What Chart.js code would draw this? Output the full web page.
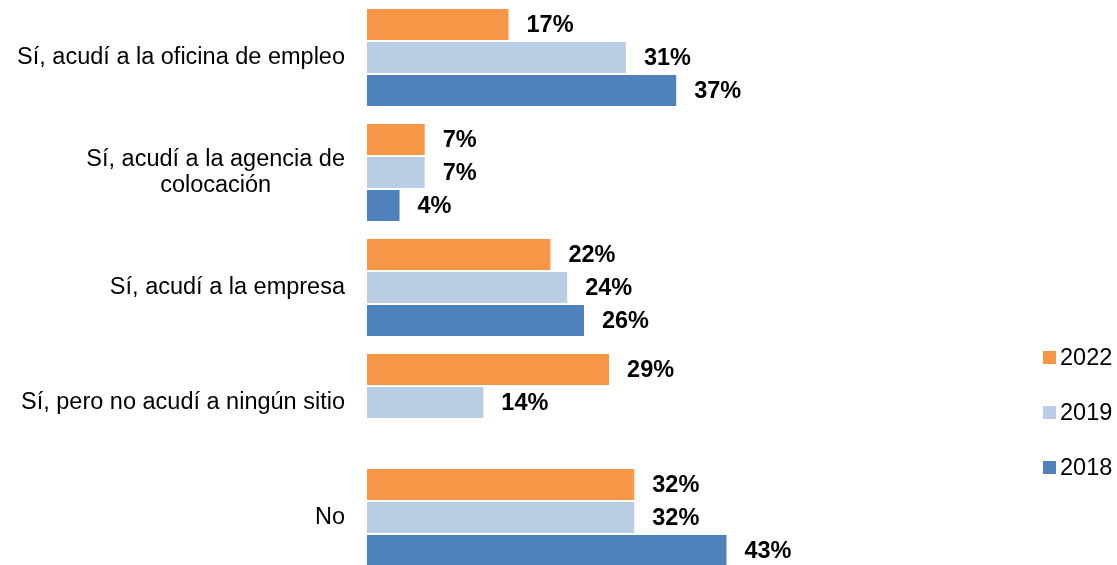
<!DOCTYPE html>
<html lang="es">
<head>
<meta charset="utf-8">
<title>Búsqueda de empleo</title>
<script src="https://cdn.jsdelivr.net/npm/chart.js@4"></script>
<style>
    html, body { margin: 0; padding: 0; background: #fff; overflow: hidden; }
    #marco { position: relative; width: 1117px; height: 575px; }
    #leyenda { position: absolute; left: 1043px; top: 329.5px; font-family: "Liberation Sans", Arial, sans-serif; font-size: 23.5px; color: #000; }
    .item { height: 55px; display: flex; align-items: center; }
    .caja { width: 13px; height: 13px; margin-right: 4px; }
</style>
</head>
<body>
<div id="marco">
    <canvas id="grafico" width="1117" height="575"></canvas>
    <div id="leyenda"></div>
</div>
<script>
const FUENTE = '"Liberation Sans", Arial, sans-serif';

// categorias (cada una con sus lineas de texto)
const categorias = [
    [ 'Sí, acudí a la oficina de empleo' ],
    [ 'Sí, acudí a la agencia de', 'colocación' ],
    [ 'Sí, acudí a la empresa' ],
    [ 'Sí, pero no acudí a ningún sitio' ],
    [ 'No' ]
];

const anios = [ '2022', '2019', '2018' ];
const colores = [ '#F79646', '#B9CDE5', '#4F81BD' ];

// porcentajes por año
const valores2022 = [ 17, 7, 22, 29, 32 ];
const valores2019 = [ 31, 7, 24, 14, 32 ];
const valores2018 = [ 37, 4, 26, null, 43 ];

const series = [ valores2022, valores2019, valores2018 ];

// etiquetas de valor al final de cada barra
const etiquetasPlugin = {
    id: 'etiquetas',
    afterDatasetsDraw( chart )
    {
        const ctx = chart.ctx;
        ctx.save();
        ctx.font = 'bold 23.5px ' + FUENTE;
        ctx.fillStyle = '#000';
        ctx.textAlign = 'left';
        ctx.textBaseline = 'middle';
        chart.data.datasets.forEach( ( ds, i ) =>
        {
            chart.getDatasetMeta( i ).data.forEach( ( barra, j ) =>
            {
                const v = ds.data[ j ];
                if ( v === null ) return;
                ctx.fillText( v + '%', barra.x + 17, barra.y + 1.5 );
            } );
        } );
        ctx.restore();
    }
};

// textos del eje vertical, centrados entre si y alineados a la derecha
const categoriasPlugin = {
    id: 'categorias',
    afterDraw( chart )
    {
        const ctx = chart.ctx;
        const eje = chart.scales.y;
        ctx.save();
        ctx.font = '23.5px ' + FUENTE;
        ctx.fillStyle = '#000';
        ctx.textAlign = 'center';
        ctx.textBaseline = 'middle';
        categorias.forEach( ( lineas, i ) =>
        {
            const yc = eje.getPixelForValue( i );
            const ancho = Math.max( ...lineas.map( l => ctx.measureText( l ).width ) );
            const xc = eje.right - 22 - ancho / 2;
            lineas.forEach( ( l, k ) =>
            {
                ctx.fillText( l, xc, yc + ( k - ( lineas.length - 1 ) / 2 ) * 26 );
            } );
        } );
        ctx.restore();
    }
};

const datos = {
    labels: categorias.map( c => c.join( ' ' ) ),
    datasets: anios.map( ( a, i ) => ( {
        label: a,
        data: series[ i ],
        backgroundColor: colores[ i ],
        borderColor: 'rgba(255,255,255,0.4)',
        borderWidth: 1,
        categoryPercentage: 0.861,
        barPercentage: 1
    } ) )
};

new Chart( document.getElementById( 'grafico' ), {
    type: 'bar',
    data: datos,
    plugins: [ etiquetasPlugin, categoriasPlugin ],
    options: {
        indexAxis: 'y',
        responsive: false,
        animation: false,
        layout: { padding: { left: 0, right: 247, top: 0, bottom: 0 } },
        plugins: {
            legend: { display: false },
            tooltip: { enabled: false }
        },
        scales: {
            x: {
                display: false,
                min: 0,
                max: 60
            },
            y: {
                ticks: { display: false },
                grid: { display: false, drawTicks: false },
                border: { display: false },
                afterFit: function ( escala )
                {
                    escala.width = 367;
                }
            }
        }
    }
} );

// leyenda a la derecha
const leyenda = document.getElementById( 'leyenda' );
anios.forEach( ( a, i ) =>
{
    leyenda.innerHTML += '<div class="item"><div class="caja" style="background:' + colores[ i ] + '"></div>' + a + '</div>';
} );
</script>
</body>
</html>
